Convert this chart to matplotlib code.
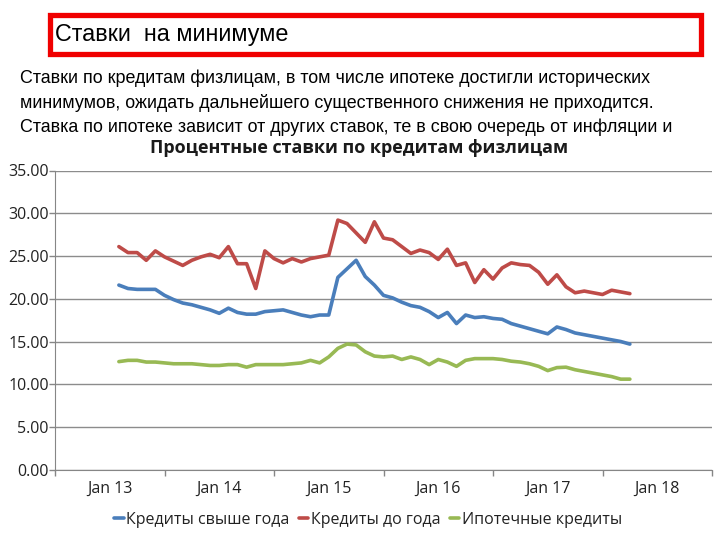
import matplotlib
matplotlib.use("Agg")
import matplotlib.pyplot as plt
from matplotlib.patches import Rectangle

# ---- data (month index: 0 = Jan 2013) ----
months = list(range(1, 58))  # Feb 2013 .. Oct 2017

long_term = [21.6, 21.2, 21.1, 21.1, 21.1, 20.4, 19.9, 19.5, 19.3, 19.0,
             18.7, 18.3, 18.9, 18.4, 18.2, 18.2, 18.5, 18.6, 18.7, 18.4,
             18.1, 17.9, 18.1, 18.1, 22.5, 23.5, 24.5, 22.6, 21.6, 20.4,
             20.1, 19.6, 19.2, 19.0, 18.5, 17.8, 18.4, 17.1, 18.1, 17.8,
             17.9, 17.7, 17.6, 17.1, 16.8, 16.5, 16.2, 15.9, 16.7, 16.4,
             16.0, 15.8, 15.6, 15.4, 15.2, 15.0, 14.7]

short_term = [26.1, 25.4, 25.4, 24.5, 25.6, 24.9, 24.4, 23.9, 24.5, 24.9,
              25.2, 24.8, 26.1, 24.1, 24.1, 21.2, 25.6, 24.7, 24.2, 24.7,
              24.3, 24.7, 24.9, 25.1, 29.2, 28.8, 27.7, 26.6, 29.0, 27.1,
              26.9, 26.1, 25.3, 25.7, 25.4, 24.6, 25.8, 23.9, 24.2, 21.9,
              23.4, 22.3, 23.6, 24.2, 24.0, 23.9, 23.1, 21.7, 22.8, 21.4,
              20.7, 20.9, 20.7, 20.5, 21.0, 20.8, 20.6]

mortgage = [12.65, 12.8, 12.8, 12.6, 12.6, 12.5, 12.4, 12.4, 12.4, 12.3,
            12.2, 12.2, 12.3, 12.3, 12.0, 12.3, 12.3, 12.3, 12.3, 12.4,
            12.5, 12.8, 12.5, 13.2, 14.2, 14.7, 14.6, 13.8, 13.3, 13.2,
            13.3, 12.9, 13.2, 12.9, 12.3, 12.9, 12.6, 12.1, 12.8, 13.0,
            13.0, 13.0, 12.9, 12.7, 12.6, 12.4, 12.1, 11.6, 11.95, 12.0,
            11.7, 11.5, 11.3, 11.1, 10.9, 10.6, 10.6]

series_names = ["Кредиты свыше года", "Кредиты до года", "Ипотечные кредиты"]
series_colors = ["#4A7EBB", "#BE4B48", "#98B954"]

x_label_pos = [0, 12, 24, 36, 48, 60]
x_labels = ["Jan 13", "Jan 14", "Jan 15", "Jan 16", "Jan 17", "Jan 18"]
y_ticks = [0, 5, 10, 15, 20, 25, 30, 35]

box_title = "Ставки  на минимуме"
paragraph = [
    "Ставки по кредитам физлицам, в том числе ипотеке достигли исторических",
    "минимумов, ожидать дальнейшего существенного снижения не приходится.",
    "Ставка по ипотеке зависит от других ставок, те в свою очередь от инфляции и",
]
chart_title = "Процентные ставки по кредитам физлицам"

W, H = 720, 540
fig = plt.figure(figsize=(W / 100, H / 100), dpi=100)
fig.patch.set_facecolor("white")

def fx(px):
    return px / W

def fy(py):
    return 1 - py / H

# red title box
fig.patches.append(Rectangle((fx(49.5), fy(53.5)), fx(700.5) - fx(49.5), fy(15.5) - fy(53.5),
                             transform=fig.transFigure, fill=False, edgecolor="#F00000",
                             linewidth=3.8))
fig.text(fx(55), fy(35), box_title, fontsize=16.8, family=["Liberation Sans", "DejaVu Sans"],
         va="center", ha="left", color="black")

for i, line in enumerate(paragraph):
    fig.text(fx(20), fy(78 + 24.5 * i), line, fontsize=12.9,
             family=["Liberation Sans", "DejaVu Sans"], va="center", ha="left", color="black")

chart_font = ["Open Sans", "DejaVu Sans"]
fig.text(fx(359), fy(148), chart_title, fontsize=13, fontweight="bold",
         family=chart_font, ha="center", va="center", color="#1a1a1a")

ax = fig.add_axes([fx(55), fy(469.8), fx(712) - fx(55), fy(170.5) - fy(469.8)])
lines = []
for vals, name, col in zip([long_term, short_term, mortgage], series_names, series_colors):
    ln, = ax.plot(months, vals, color=col, linewidth=2.6, label=name,
                  solid_joinstyle="round", solid_capstyle="round")
    lines.append(ln)

ax.set_xlim(-6, 66)
ax.set_ylim(0, 35)
ax.set_yticks(y_ticks)
ax.set_yticklabels([f"{v:.2f}" for v in y_ticks], family=chart_font, fontsize=11.5, color="#222222")
ax.set_xticks(list(range(-6, 67, 12)))
ax.set_xticklabels([])
ax.set_xticks(x_label_pos, minor=True)
ax.set_xticklabels(x_labels, minor=True, family=chart_font, fontsize=11.5, color="#222222")
ax.tick_params(axis="x", which="major", length=4, direction="out", color="#868686", width=1)
ax.tick_params(axis="x", which="minor", length=0, pad=8)
ax.tick_params(axis="y", length=4, direction="out", color="#868686", width=1, pad=0.5)

ax.grid(axis="y", color="#8C8C8C", linewidth=1.0)
ax.set_axisbelow(True)
for side in ["top", "right"]:
    ax.spines[side].set_visible(False)
ax.spines["left"].set_color("#868686")
ax.spines["bottom"].set_color("#868686")

leg = fig.legend(handles=lines, labels=series_names, loc="center",
                 bbox_to_anchor=(fx(368), fy(520)), ncol=3, frameon=False,
                 handlelength=0.6, handletextpad=0.15, columnspacing=0.6,
                 prop={"family": chart_font, "size": 11.5})
for t in leg.get_texts():
    t.set_color("#222222")

fig.savefig("out.png", dpi=100, facecolor="white")
